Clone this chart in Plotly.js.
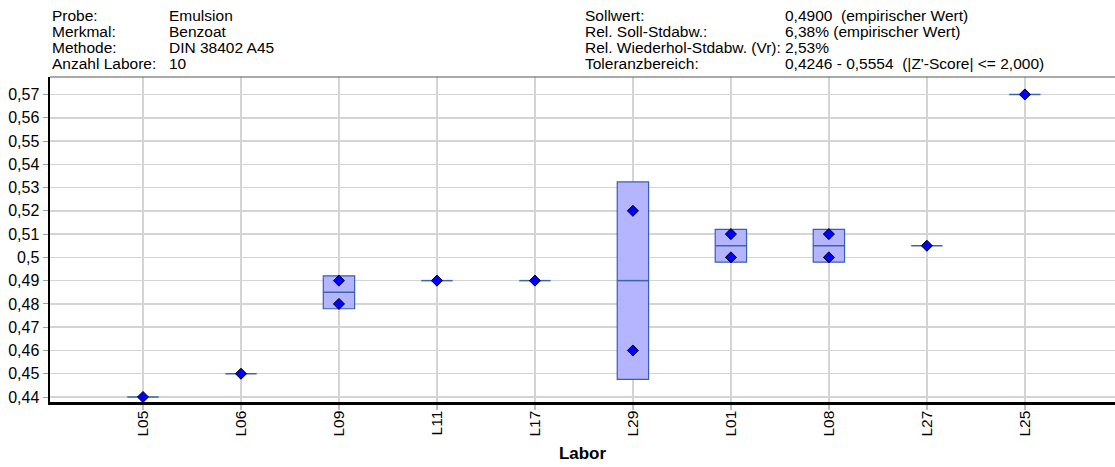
<!DOCTYPE html>
<html>
<head>
<meta charset="utf-8">
<script src="https://cdn.plot.ly/plotly-3.0.1.min.js"></script>
<style>html,body{margin:0;padding:0;background:#fff}#chart{width:1115px;height:467px}</style>
</head>
<body>
<div id="chart"></div>
<script>
// ---- data ----
const labs = ['L05','L06','L09','L11','L17','L29','L01','L08','L27','L25'];
const value1 = [0.44, 0.45, 0.49, 0.49, 0.49, 0.52, 0.51, 0.51, 0.505, 0.57];
const value2 = [null, null, 0.48, null, null, 0.46, 0.50, 0.50, null, null];
const yTickVals = [0.44,0.45,0.46,0.47,0.48,0.49,0.5,0.51,0.52,0.53,0.54,0.55,0.56,0.57];
const yTickText = ['0,44','0,45','0,46','0,47','0,48','0,49','0,5','0,51','0,52','0,53','0,54','0,55','0,56','0,57'];
const headerLeftLabels = ['Probe:','Merkmal:','Methode:','Anzahl Labore:'];
const headerLeftValues = ['Emulsion','Benzoat','DIN 38402 A45','10'];
const headerRightLabels = ['Sollwert:','Rel. Soll-Stdabw.:','Rel. Wiederhol-Stdabw. (Vr):','Toleranzbereich:'];
const headerRightValues = ['0,4900  (empirischer Wert)','6,38% (empirischer Wert)','2,53%','0,4246 - 0,5554  (|Z\'-Score| <= 2,000)'];

// ---- derived statistics (mean ± standard deviation box) ----
const idx = labs.map((_, i) => i);
const means = [], sds = [];
labs.forEach((_, i) => {
  const vals = [value1[i], value2[i]].filter(v => v !== null);
  const m = vals.reduce((a, b) => a + b, 0) / vals.length;
  let sd = 0;
  if (vals.length > 1) sd = Math.sqrt(vals.reduce((a, v) => a + (v - m) * (v - m), 0) / (vals.length - 1));
  means.push(m); sds.push(sd);
});
const boxIdx = idx.filter(i => sds[i] > 0);

const halfW = 0.16;
const traces = [];
traces.push({
  type: 'bar',
  x: boxIdx,
  base: boxIdx.map(i => means[i] - sds[i]),
  y: boxIdx.map(i => 2 * sds[i]),
  width: 2 * halfW,
  marker: {color: 'rgb(180,180,255)', line: {color: 'rgb(55,95,180)', width: 1.2}},
  hoverinfo: 'skip', showlegend: false
});
const lx = [], ly = [];
idx.forEach(i => { lx.push(i - halfW, i + halfW, null); ly.push(means[i], means[i], null); });
traces.push({
  type: 'scatter', mode: 'lines', x: lx, y: ly,
  line: {color: 'rgb(60,100,170)', width: 1.5},
  hoverinfo: 'skip', showlegend: false
});
const px = [], py = [];
idx.forEach(i => {
  px.push(i); py.push(value1[i]);
  if (value2[i] !== null) { px.push(i); py.push(value2[i]); }
});
traces.push({
  type: 'scatter', mode: 'markers', x: px, y: py,
  marker: {symbol: 'diamond', size: 8.5, color: '#0000ff', line: {color: '#000', width: 1}},
  showlegend: false
});

const F = 'Liberation Sans, Arial, sans-serif';
const rowY = [1.19, 1.14, 1.09, 1.042];
const annotations = [];
const hf = {family: F, size: 15.5, color: '#000'};
for (let r = 0; r < 4; r++) {
  annotations.push({xref:'paper', yref:'paper', x:0, y:rowY[r], xanchor:'left', yanchor:'middle', showarrow:false, text:headerLeftLabels[r], font:hf});
  annotations.push({xref:'paper', yref:'paper', x:0.1099, y:rowY[r], xanchor:'left', yanchor:'middle', showarrow:false, text:headerLeftValues[r], font:hf});
  annotations.push({xref:'paper', yref:'paper', x:0.5005, y:rowY[r], xanchor:'left', yanchor:'middle', showarrow:false, text:headerRightLabels[r], font:hf});
  annotations.push({xref:'paper', yref:'paper', x:0.6883, y:rowY[r], xanchor:'left', yanchor:'middle', showarrow:false, text:headerRightValues[r], font:hf});
}

const layout = {
  width: 1115, height: 467,
  margin: {l: 50, r: 0, t: 77, b: 65},
  paper_bgcolor: '#fff', plot_bgcolor: '#fff',
  font: {family: F, size: 15, color: '#000'},
  showlegend: false,
  xaxis: {
    range: [-0.949, 9.92],
    tickvals: idx, ticktext: labs, tickangle: -90,
    showgrid: true, gridcolor: '#d4d4d4', gridwidth: 1.5,
    zeroline: false,
    showline: true, linecolor: '#000', linewidth: 2.5,
    ticks: 'outside', ticklen: 5, tickcolor: '#c0c0c0', tickwidth: 1.5,
    ticklabelstandoff: -5,
    tickfont: {family: F, size: 15.5, color: '#000'},
    title: {text: 'Labor', font: {family: F, size: 17, color: '#000', weight: 'bold'}, standoff: 12},
    fixedrange: true
  },
  yaxis: {
    range: [0.43785, 0.57751],
    tickvals: yTickVals, ticktext: yTickText,
    showgrid: true, gridcolor: '#d4d4d4', gridwidth: 1.5,
    zeroline: false,
    showline: true, linecolor: '#000', linewidth: 2.5,
    ticks: 'outside', ticklen: 5, tickcolor: '#a0a0a0', tickwidth: 1,
    tickfont: {family: F, size: 16, color: '#000'},
    fixedrange: true
  },
  shapes: [{type:'line', xref:'paper', yref:'paper', x0:0, x1:1, y0:1, y1:1, line:{color:'#555', width:1}}],
  annotations: annotations,
  bargap: 0
};
Plotly.newPlot('chart', traces, layout, {displayModeBar: false, staticPlot: true});
</script>
</body>
</html>
